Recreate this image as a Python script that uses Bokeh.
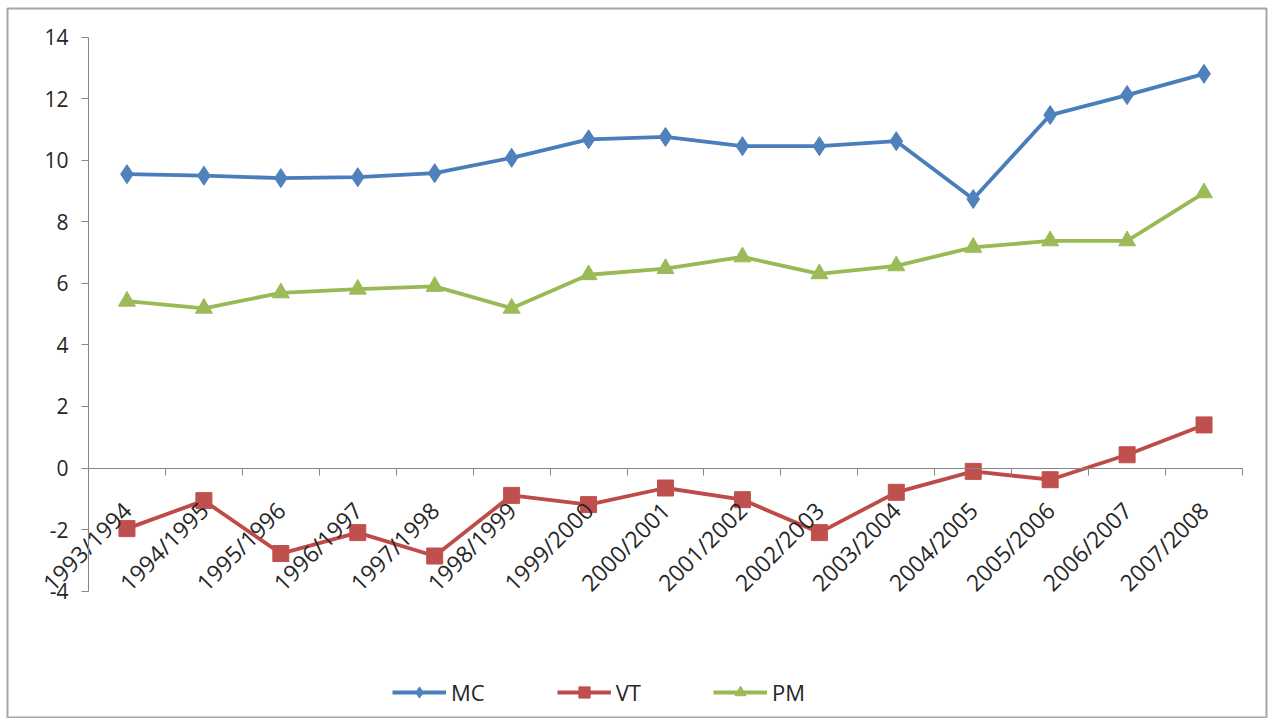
import math
from bokeh.plotting import figure
from bokeh.models import FixedTicker, Legend, LegendItem
from bokeh.embed import file_html
from bokeh.resources import INLINE

categories = ["1993/1994", "1994/1995", "1995/1996", "1996/1997", "1997/1998",
              "1998/1999", "1999/2000", "2000/2001", "2001/2002", "2002/2003",
              "2003/2004", "2004/2005", "2005/2006", "2006/2007", "2007/2008"]
mc = [9.55, 9.50, 9.42, 9.45, 9.58, 10.08, 10.68, 10.76, 10.46, 10.46, 10.62, 8.74, 11.47, 12.12, 12.81]
vt = [-1.97, -1.06, -2.78, -2.10, -2.86, -0.89, -1.19, -0.65, -1.03, -2.10, -0.79, -0.11, -0.38, 0.43, 1.40]
pm = [5.42, 5.19, 5.69, 5.81, 5.90, 5.19, 6.28, 6.48, 6.86, 6.31, 6.57, 7.17, 7.38, 7.38, 8.94]
y_ticks = [-4, -2, 0, 2, 4, 6, 8, 10, 12, 14]
y_min, y_max = -4, 14

FONT = "Open Sans"
TXT = "#262626"
AXIS = "#868686"

# layout (pixels): chart border box and plot-area placement
W, H = 1268, 718
BOX_L, BOX_R, BOX_T, BOX_B = 7, 1266, 8, 717
AX_L, AX_R = 88, 1242          # category axis extent
Y_TOP_PX, Y_ZERO_PX = 36.7, 467.5

n = len(categories)
xs = list(range(n))
px_cat = (AX_R - AX_L) / n
px_unit = (Y_ZERO_PX - Y_TOP_PX) / y_max
x_start = -0.5 - (AX_L - BOX_L) / px_cat
x_end = n - 0.5 + (BOX_R - AX_R) / px_cat
y_end = y_max + (Y_TOP_PX - BOX_T) / px_unit
y_start = -(BOX_B - Y_ZERO_PX) / px_unit

p = figure(width=W, height=H, output_backend="svg", toolbar_location=None,
           x_range=(x_start, x_end), y_range=(y_start, y_end),
           min_border_left=BOX_L, min_border_right=W - BOX_R,
           min_border_top=BOX_T, min_border_bottom=H - BOX_B)
p.outline_line_color = "#a6a6a6"
p.outline_line_width = 2
p.xgrid.visible = False
p.ygrid.visible = False
p.background_fill_color = "white"
p.border_fill_color = "white"

# value axis
ya = p.yaxis[0]
ya.fixed_location = -0.5
ya.bounds = (y_min, y_max)
ya.ticker = FixedTicker(ticks=y_ticks)
ya.major_label_overrides = {t: str(t) for t in y_ticks}
ya.axis_line_color = AXIS
ya.major_tick_line_color = AXIS
ya.major_tick_out = 7
ya.major_tick_in = 0
ya.minor_tick_line_color = None
ya.major_label_text_font = FONT
ya.major_label_text_font_size = "21px"
ya.major_label_text_color = TXT
ya.major_label_standoff = 13

# category axis crossing at zero
xa = p.xaxis[0]
xa.fixed_location = 0
xa.bounds = (-0.5, n - 0.5)
xa.ticker = FixedTicker(ticks=xs, minor_ticks=[i - 0.5 for i in range(n + 1)])
xa.major_label_overrides = {i: c for i, c in enumerate(categories)}
xa.axis_line_color = AXIS
xa.major_tick_line_color = None
xa.major_tick_out = 6
xa.minor_tick_line_color = AXIS
xa.minor_tick_out = 7
xa.minor_tick_in = 0
xa.major_label_orientation = math.pi / 4
xa.major_label_text_font = FONT
xa.major_label_text_font_size = "23px"
xa.major_label_text_color = TXT
xa.major_label_standoff = 31

series = [
    ("MC", mc, "#4A7EBB", "#4F81BD", "diamond", 19),
    ("VT", vt, "#BE4B48", "#C0504D", "square", 16),
    ("PM", pm, "#98B954", "#9BBB59", "triangle", 17),
]
items = []
for name, vals, lc, mcol, marker, size in series:
    l = p.line(xs, vals, line_color=lc, line_width=3.8)
    s = p.scatter(xs, vals, marker=marker, size=size, fill_color=mcol, line_color=mcol)
    items.append(LegendItem(label=name, renderers=[l, s]))

legend = Legend(items=items, orientation="horizontal", location=(385, 10),
                glyph_width=54, glyph_height=28, label_standoff=5, spacing=72,
                padding=0, margin=0, border_line_alpha=0, background_fill_alpha=0,
                label_text_font=FONT, label_text_font_size="22px", label_text_color=TXT)
p.add_layout(legend, "center")

open("out.html", "w").write(file_html(p, INLINE))
